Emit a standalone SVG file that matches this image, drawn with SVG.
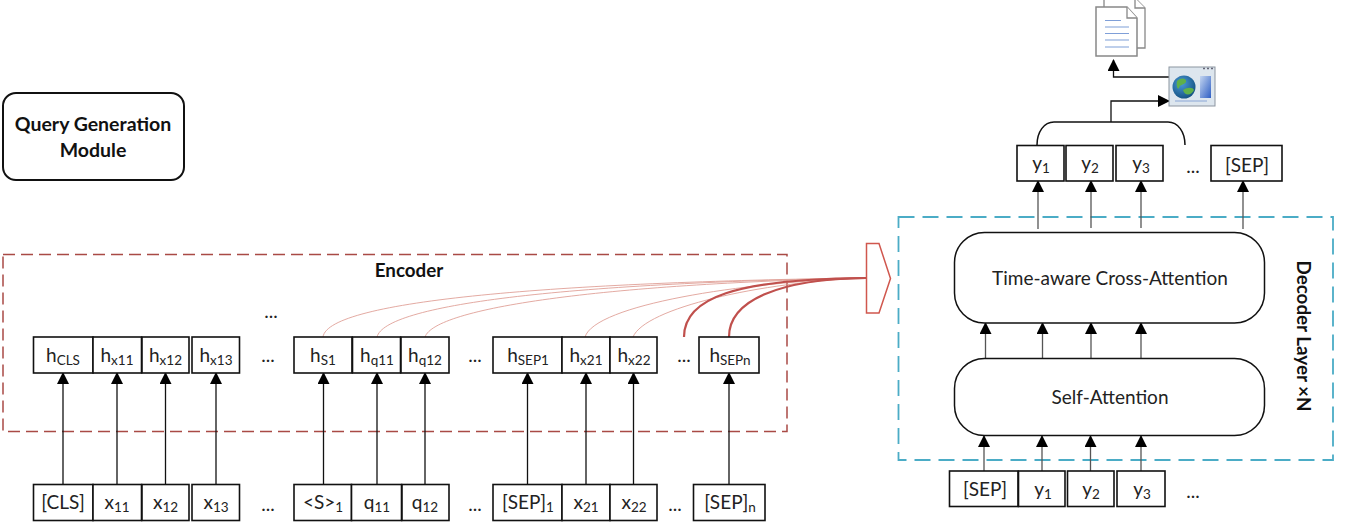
<svg xmlns="http://www.w3.org/2000/svg" width="1352" height="527" viewBox="0 0 1352 527">
<style>
text{font-family:Lato,"Open Sans",sans-serif;font-size:19px;fill:#222;text-anchor:middle}
.sub{font-size:13.500px}
.b{font-weight:700;fill:#111;font-size:18.800px}
.q{font-size:19.500px}
.box{fill:#fff;stroke:#111;stroke-width:1.600}
.round{fill:#fff;stroke:#111;stroke-width:1.500}
.conn{fill:none;stroke:#111;stroke-width:1.300;marker-end:url(#ah)}
.gray{stroke:#555}
.line{fill:none;stroke:#111;stroke-width:1.500}
.thin{fill:none;stroke:#e0a097;stroke-width:.9}
.thick{fill:none;stroke:#c0504d;stroke-width:2.200}
.doc{fill:#fff;stroke:#888;stroke-width:1.300}
.dl{stroke:#7f9fd8;stroke-width:1.200}
</style>
<defs>
<marker id="ah" markerUnits="userSpaceOnUse" markerWidth="12" markerHeight="13" refX="11" refY="6" orient="auto"><path d="M0,0L12,6L0,12z" fill="#000"/></marker>
<linearGradient id="pn" x1="0" y1="0" x2="1" y2="1"><stop offset="0" stop-color="#c3d5f0"/><stop offset="1" stop-color="#2f5fc4"/></linearGradient>
<radialGradient id="gl" cx=".4" cy=".35" r=".7"><stop offset="0" stop-color="#4a9ad8"/><stop offset="1" stop-color="#13507f"/></radialGradient>
</defs>

<g id="query-module"><rect class="round" x="3" y="93" width="181" height="87" rx="13" style="stroke-width:2"/><text class="b q" x="93" y="131">Query Generation</text><text class="b q" x="93" y="157">Module</text></g>

<g id="encoder-frame"><rect x="3" y="254.500" width="784" height="177" fill="none" stroke="#a94a45" stroke-width="1.500" stroke-dasharray="12 6"/><text class="b" x="409" y="277">Encoder</text></g>
<g id="decoder-frame"><rect x="898.500" y="217" width="434.500" height="243" fill="none" stroke="#4bacc6" stroke-width="1.800" stroke-dasharray="16 8"/><text class="b" transform="translate(1297,336) rotate(90)" x="0" y="0">Decoder Layer ×N</text></g>
<g id="merge-arrow"><path d="M866.500,243.500H879L890.500,278.500L879,313H866.500z" fill="#fff" stroke="#d0574e" stroke-width="1.500"/></g>

<g id="connectors">
<path class="conn" d="M63,484V373"/><path class="conn" d="M117,484V373"/><path class="conn" d="M165.500,484V373"/><path class="conn" d="M216,484V373"/>
<path class="conn" d="M323.500,484V373"/><path class="conn" d="M377,484V373"/><path class="conn" d="M425,484V373"/>
<path class="conn" d="M527.500,484V373"/><path class="conn" d="M586,484V373"/><path class="conn" d="M633.500,484V373"/><path class="conn" d="M729,484V373"/>
<path class="thin" d="M323,337C328,300 560,282 866,278"/>
<path class="thin" d="M377,337C385,305 560,283 866,278"/>
<path class="thin" d="M425,337C435,308 600,284 866,278"/>
<path class="thin" d="M585,337C595,305 740,282 866,278"/>
<path class="thin" d="M633,337C645,308 760,282 866,278"/>
<path class="thick" d="M684,337C684,298 735,279 866,278"/>
<path class="thick" d="M729,337C729,300 780,279 866,278"/>
<path class="conn gray" d="M984,471V436"/><path class="conn gray" d="M1042,471V436"/><path class="conn gray" d="M1090.500,471V436"/><path class="conn gray" d="M1141,471V436"/>
<path class="conn gray" d="M985.500,358V323"/><path class="conn gray" d="M1042.500,358V323"/><path class="conn gray" d="M1091,358V323"/><path class="conn gray" d="M1141,358V323"/>
<path class="conn gray" d="M1038,229V181"/><path class="conn gray" d="M1091,228V181"/><path class="conn gray" d="M1141,228V181"/><path class="conn gray" d="M1243,229V181"/>
<path class="line" d="M1037,145C1037,132 1044,122 1054,122H1168C1178,122 1185,132 1185,145"/>
<path class="conn" d="M1111,122V101H1169"/>
<path class="conn" d="M1169,77H1113.500V60"/>
</g>

<g id="h-cls"><rect class="box" x="33.500" y="337" width="59.500" height="36"/><text x="63" y="362">h<tspan class="sub" dy="3">CLS</tspan></text></g>
<g id="h-x11"><rect class="box" x="93" y="337" width="48.500" height="36"/><text x="117" y="362">h<tspan class="sub" dy="3">x11</tspan></text></g>
<g id="h-x12"><rect class="box" x="142" y="337" width="47" height="36"/><text x="165.500" y="362">h<tspan class="sub" dy="3">x12</tspan></text></g>
<g id="h-x13"><rect class="box" x="192" y="337" width="47.500" height="36"/><text x="216" y="362">h<tspan class="sub" dy="3">x13</tspan></text></g>
<g id="h-s1"><rect class="box" x="294" y="337" width="58" height="36"/><text x="323" y="362">h<tspan class="sub" dy="3">S1</tspan></text></g>
<g id="h-q11"><rect class="box" x="352.500" y="337" width="48" height="36"/><text x="377" y="362">h<tspan class="sub" dy="3">q11</tspan></text></g>
<g id="h-q12"><rect class="box" x="401" y="337" width="48" height="36"/><text x="425" y="362">h<tspan class="sub" dy="3">q12</tspan></text></g>
<g id="h-sep1"><rect class="box" x="493" y="337" width="69" height="36"/><text x="528" y="362">h<tspan class="sub" dy="3">SEP1</tspan></text></g>
<g id="h-x21"><rect class="box" x="562" y="337" width="48" height="36"/><text x="586" y="362">h<tspan class="sub" dy="3">x21</tspan></text></g>
<g id="h-x22"><rect class="box" x="610" y="337" width="47" height="36"/><text x="634" y="362">h<tspan class="sub" dy="3">x22</tspan></text></g>
<g id="h-sepn"><rect class="box" x="699" y="337" width="60" height="36"/><text x="730" y="362">h<tspan class="sub" dy="3">SEPn</tspan></text></g>

<g id="t-cls"><rect class="box" x="33.500" y="484.500" width="59.500" height="36"/><text x="63" y="509">[CLS]</text></g>
<g id="t-x11"><rect class="box" x="93" y="484.500" width="48.500" height="36"/><text x="117" y="509">x<tspan class="sub" dy="3">11</tspan></text></g>
<g id="t-x12"><rect class="box" x="142" y="484.500" width="47" height="36"/><text x="165.500" y="509">x<tspan class="sub" dy="3">12</tspan></text></g>
<g id="t-x13"><rect class="box" x="192" y="484.500" width="47.500" height="36"/><text x="216" y="509">x<tspan class="sub" dy="3">13</tspan></text></g>
<g id="t-s1"><rect class="box" x="294" y="484.500" width="57.500" height="36"/><text x="323" y="509">&lt;S&gt;<tspan class="sub" dy="3">1</tspan></text></g>
<g id="t-q11"><rect class="box" x="351.500" y="484.500" width="50" height="36"/><text x="377" y="509">q<tspan class="sub" dy="3">11</tspan></text></g>
<g id="t-q12"><rect class="box" x="402" y="484.500" width="47" height="36"/><text x="425" y="509">q<tspan class="sub" dy="3">12</tspan></text></g>
<g id="t-sep1"><rect class="box" x="493" y="484.500" width="69" height="36"/><text x="528" y="509">[SEP]<tspan class="sub" dy="3">1</tspan></text></g>
<g id="t-x21"><rect class="box" x="562" y="484.500" width="48" height="36"/><text x="586" y="509">x<tspan class="sub" dy="3">21</tspan></text></g>
<g id="t-x22"><rect class="box" x="610" y="484.500" width="47" height="36"/><text x="634" y="509">x<tspan class="sub" dy="3">22</tspan></text></g>
<g id="t-sepn"><rect class="box" x="693.500" y="484.500" width="71.500" height="36"/><text x="730" y="509">[SEP]<tspan class="sub" dy="3">n</tspan></text></g>

<g id="dots">
<text x="271" y="318">...</text><text x="268" y="362">...</text><text x="475" y="362">...</text><text x="684" y="362">...</text>
<text x="268" y="511">...</text><text x="475" y="511">...</text><text x="675" y="511">...</text><text x="1193" y="498">...</text><text x="1193" y="173">...</text>
</g>

<g id="cross-attention"><rect class="round" x="954.500" y="232.500" width="310" height="90.500" rx="30"/><text x="1110" y="285">Time-aware Cross-Attention</text></g>
<g id="self-attention"><rect class="round" x="954.500" y="358.500" width="310" height="77" rx="30"/><text x="1110" y="404">Self-Attention</text></g>

<g id="in-sep"><rect class="box" x="949.500" y="471" width="68.500" height="35.500"/><text x="985" y="496">[SEP]</text></g>
<g id="in-y1"><rect class="box" x="1018.500" y="471" width="46.500" height="35.500"/><text x="1043" y="496">y<tspan class="sub" dy="3">1</tspan></text></g>
<g id="in-y2"><rect class="box" x="1067.500" y="471" width="46.500" height="35.500"/><text x="1091" y="496">y<tspan class="sub" dy="3">2</tspan></text></g>
<g id="in-y3"><rect class="box" x="1117" y="471" width="48" height="35.500"/><text x="1142" y="496">y<tspan class="sub" dy="3">3</tspan></text></g>

<g id="out-y1"><rect class="box" x="1017" y="145.500" width="47" height="35.500"/><text x="1041" y="170">y<tspan class="sub" dy="3">1</tspan></text></g>
<g id="out-y2"><rect class="box" x="1066" y="145.500" width="47" height="35.500"/><text x="1090" y="170">y<tspan class="sub" dy="3">2</tspan></text></g>
<g id="out-y3"><rect class="box" x="1116" y="145.500" width="47" height="35.500"/><text x="1141" y="170">y<tspan class="sub" dy="3">3</tspan></text></g>
<g id="out-sep"><rect class="box" x="1211" y="145.500" width="71" height="35.500"/><text x="1247" y="172">[SEP]</text></g>

<g id="browser-icon">
<rect x="1169" y="67" width="46" height="39" fill="#dde6ee" stroke="#8c95a0" stroke-width="1"/>
<path d="M1203,68.500h2M1207,68.500h2M1211,68.500h2" stroke="#667" stroke-width="1.500"/>
<rect x="1200" y="76" width="11" height="22" fill="url(#pn)"/>
<circle cx="1184" cy="87" r="11.500" fill="url(#gl)"/>
<path d="M1177,81C1181,77 1187,78 1186,82C1184,85 1180,84 1179,88C1178,90 1176,87 1177,81ZM1183,90C1187,87 1193,87 1194,90C1192,95 1185,97 1183,90Z" fill="#5fb04a"/>
<path d="M1175,101H1207" stroke="#8aa6d6" stroke-width="1"/>
</g>
<g id="doc-icon">
<path class="doc" d="M1104,-2H1135L1145,8V48H1104z"/>
<path class="doc" d="M1135,-2V8H1145" fill="#eee"/>
<path class="doc" d="M1096,7H1127L1137,18V56H1096z" style="stroke-width:1.500"/>
<path class="doc" d="M1127,7V18H1137" fill="#eee"/>
<path class="dl" d="M1105,20.500H1121M1105,27H1129M1105,33.500H1129M1105,40H1129M1105,47H1129"/>
</g>
</svg>
